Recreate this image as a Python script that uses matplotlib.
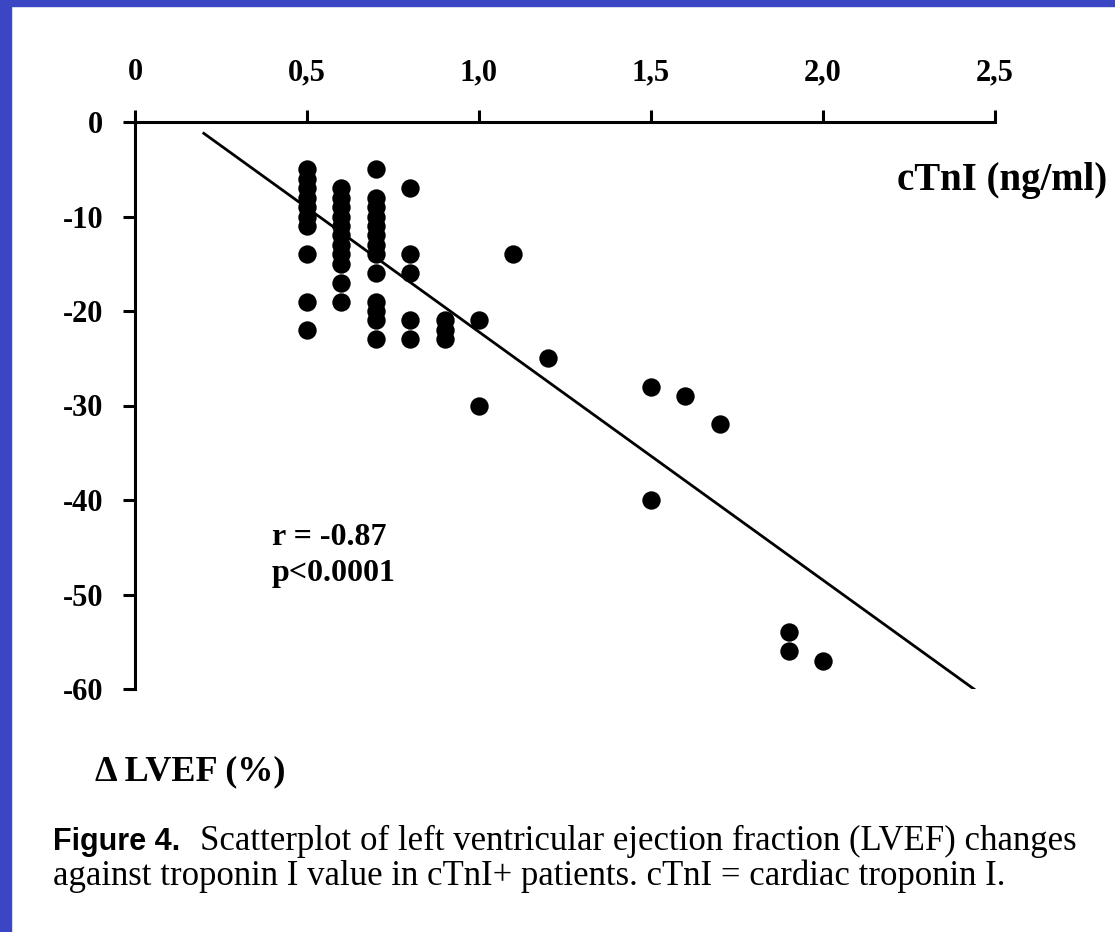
import matplotlib
matplotlib.use('Agg')
import matplotlib.pyplot as plt
from matplotlib.patches import Rectangle

''' scatter of LVEF change against cTnI, regression line on top '''
# data
ctni = [0.5]*10 + [0.6]*11 + [0.7]*13 + [0.8]*5 + [0.9]*3 + \
       [1.0, 1.0, 1.1, 1.2, 1.5, 1.5, 1.6, 1.7, 1.9, 1.9, 2.0]
dlvef = [-5, -6, -7, -8, -9, -10, -11, -14, -19, -22,
         -7, -8, -9, -10, -11, -12, -13, -14, -15, -17, -19,
         -5, -8, -9, -10, -11, -12, -13, -14, -16, -19, -20, -21, -23,
         -7, -14, -16, -21, -23,
         -21, -22, -23,
         -21, -30, -14, -25, -28, -40, -29, -32, -54, -56, -57]

fit_x = [0.2, 2.45]
fit_y = [-1.2, -60.3]

x_ticks = [0, 0.5, 1.0, 1.5, 2.0, 2.5]
x_labels = ['0', '0,5', '1,0', '1,5', '2,0', '2,5']
y_ticks = [0, -10, -20, -30, -40, -50, -60]

plt.rcParams['axes.unicode_minus'] = False
serif = ['Liberation Serif', 'DejaVu Serif']

fig = plt.figure(figsize=(11.15, 9.32), dpi=100)
W, H = 1115., 932.

# blue slide border
fig.patches.append(Rectangle((0, 0), 11/W, 1, transform=fig.transFigure,
                             color='#3a46c4', zorder=0))
fig.patches.append(Rectangle((0, 1-6/H), 1, 6/H, transform=fig.transFigure,
                             color='#3a46c4', zorder=0))

ax = fig.add_axes([135/W, 1-689/H, 860/W, (689-122)/H])
ax.scatter(ctni, dlvef, s=175, c='black', linewidths=0, zorder=3)
ax.plot(fit_x, fit_y, color='black', lw=2, zorder=2)

ax.set_xlim(0, 2.5)
ax.set_ylim(-60, 0)
for s in ['right', 'bottom']:
    ax.spines[s].set_visible(False)
for s in ['top', 'left']:
    ax.spines[s].set_linewidth(2.2)

ax.xaxis.tick_top()
ax.set_xticks(x_ticks)
ax.set_xticklabels(x_labels)
ax.set_yticks(y_ticks)
ax.tick_params(axis='both', direction='out', length=9, width=2.2)
ax.tick_params(axis='x', pad=16)
ax.tick_params(axis='y', pad=14)
for lab in ax.get_xticklabels() + ax.get_yticklabels():
    lab.set_fontfamily(serif)
    lab.set_fontweight('bold')
    lab.set_fontsize(22)

fig.text(1107/W, 1-190/H, 'cTnI (ng/ml)', ha='right', va='baseline',
         fontsize=28, fontweight='bold', family=serif)
fig.text(95/W, 1-780/H, '\u0394 LVEF (%)', ha='left', va='baseline',
         fontsize=26, fontweight='bold', family=serif)
fig.text(272/W, 1-545/H, 'r = -0.87', ha='left', va='baseline',
         fontsize=23, fontweight='bold', family=serif)
fig.text(272/W, 1-581/H, 'p<0.0001', ha='left', va='baseline',
         fontsize=23, fontweight='bold', family=serif)

# caption
fig.text(53/W, 1-850/H, 'Figure 4.', ha='left', va='baseline', fontsize=22,
         fontweight='bold', family=['Liberation Sans', 'DejaVu Sans'])
fig.text(200/W, 1-850/H, 'Scatterplot of left ventricular ejection fraction (LVEF) changes',
         ha='left', va='baseline', fontsize=25, family=serif)
fig.text(53/W, 1-885/H, 'against troponin I value in cTnI+ patients. cTnI = cardiac troponin I.',
         ha='left', va='baseline', fontsize=25, family=serif)

plt.savefig('out.png', dpi=100)
